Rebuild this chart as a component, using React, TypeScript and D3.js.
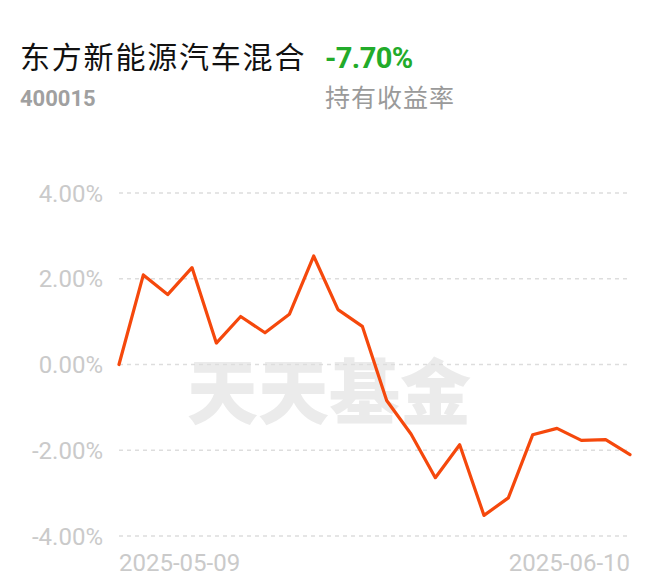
import React from "react";
import * as d3 from "d3";

const dates = [
  "2025-05-09","2025-05-12","2025-05-13","2025-05-14","2025-05-15","2025-05-16",
  "2025-05-19","2025-05-20","2025-05-21","2025-05-22","2025-05-23",
  "2025-05-26","2025-05-27","2025-05-28","2025-05-29","2025-05-30",
  "2025-06-03","2025-06-04","2025-06-05","2025-06-06","2025-06-09","2025-06-10",
];
const returns = [
  0, 2.09, 1.63, 2.26, 0.5, 1.12, 0.74, 1.17, 2.53, 1.28, 0.89,
  -0.84, -1.62, -2.64, -1.87, -3.52, -3.11, -1.64, -1.49, -1.77, -1.75, -2.1,
];
const yTicks = [4, 2, 0, -2, -4];
const xTickLabels = ["2025-05-09", "2025-06-10"];
const fundName = "东方新能源汽车混合";
const fundCode = "400015";
const holdReturn = "-7.70%";
const holdLabel = "持有收益率";
const watermark = "天天基金";

const W = 660;
const H = 585;
const left = 119;
const right = 630;
const top = 193;
const bottom = 536;

export default function App() {
  const x = d3.scalePoint<string>().domain(dates).range([left, right]);
  const y = d3.scaleLinear().domain([-4, 4]).range([bottom, top]);
  const line = d3
    .line<number>()
    .x((_, i) => x(dates[i]) as number)
    .y((d) => y(d));
  const cjk = "'Noto Sans CJK SC', 'Noto Sans', sans-serif";
  const num = "Roboto, 'Noto Sans', sans-serif";
  return (
    <div style={{ position: "absolute", left: 0, top: 0 }}>
      <svg width={W} height={H} viewBox={`0 0 ${W} ${H}`} style={{ display: "block", background: "#fff" }}>
        <text x={20} y={68} fontFamily={cjk} fontSize={30} fill="#111" letterSpacing={1.8}>
          {fundName}
        </text>
        <text x={325} y={68} fontFamily={num} fontWeight={700} fontSize={29} fill="#22ab2a" letterSpacing={-0.6}>
          {holdReturn}
        </text>
        <text x={20} y={106} fontFamily={num} fontWeight={700} fontSize={22} fill="#a0a0a0">
          {fundCode}
        </text>
        <text x={325} y={107} fontFamily={cjk} fontSize={25} fill="#9a9a9a" letterSpacing={1}>
          {holdLabel}
        </text>

        <text x={329} y={418} textAnchor="middle" fontFamily={cjk} fontWeight={900} fontSize={71} fill="#ebebeb">
          {watermark}
        </text>

        {yTicks.map((t) => (
          <g key={t}>
            <line x1={left} x2={right} y1={y(t)} y2={y(t)} stroke="#dddddd" strokeWidth={1.5} strokeDasharray="4 4" />
            <text x={103} y={y(t)} dy="0.36em" textAnchor="end" fontFamily={num} fontSize={24} fill="#cacaca">
              {t.toFixed(2) + "%"}
            </text>
          </g>
        ))}

        <path d={line(returns) || ""} fill="none" stroke="#f5480c" strokeWidth={3.2} strokeLinejoin="round" strokeLinecap="round" />

        {xTickLabels.map((d, i) => (
          <text
            key={d}
            x={x(d) as number}
            y={571}
            textAnchor={i === 0 ? "start" : "end"}
            fontFamily={num}
            fontSize={24}
            fill="#cacaca"
          >
            {d}
          </text>
        ))}
      </svg>
    </div>
  );
}
